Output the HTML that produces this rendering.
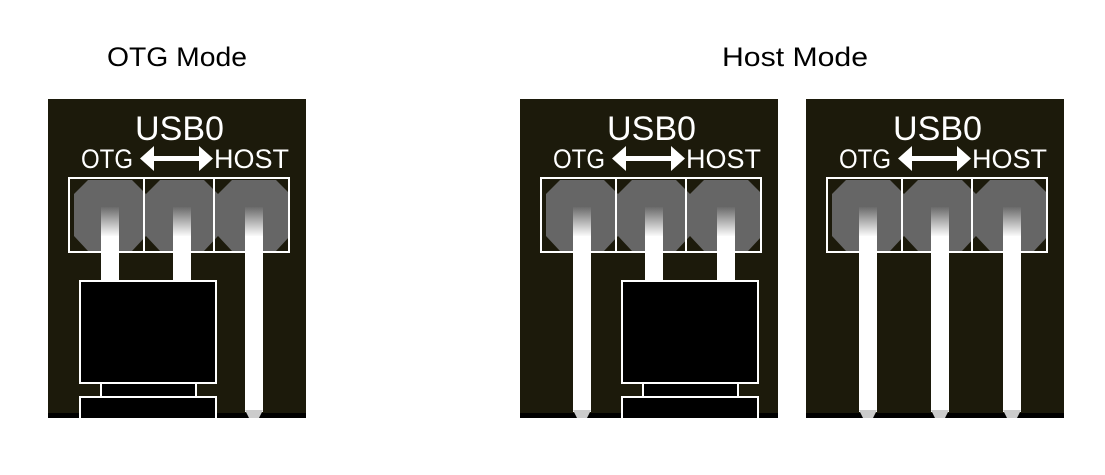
<!DOCTYPE html>
<html><head><meta charset="utf-8"><style>
html,body{margin:0;padding:0;background:#fff;}
svg{display:block;}
</style></head><body>
<svg width="1105" height="475" viewBox="0 0 1105 475" xmlns="http://www.w3.org/2000/svg">
<defs>
<linearGradient id="pg" x1="0" y1="0" x2="0" y2="1">
<stop offset="0" stop-color="#6a6a6a"/><stop offset="1" stop-color="#ffffff"/>
</linearGradient>
<g id="hdr">
<rect x="48" y="99" width="258" height="319" fill="#1c1a0b"/>
<rect x="48" y="413" width="258" height="5" fill="#000"/>
<text x="135" y="140" font-family="Liberation Sans, sans-serif" font-size="34" fill="#fff" textLength="89" lengthAdjust="spacingAndGlyphs">USB0</text>
<text x="81" y="168" font-family="Liberation Sans, sans-serif" font-size="27" fill="#fff" textLength="52" lengthAdjust="spacingAndGlyphs">OTG</text>
<text x="214" y="168" font-family="Liberation Sans, sans-serif" font-size="27" fill="#fff" textLength="75" lengthAdjust="spacingAndGlyphs">HOST</text>
<polygon points="140,158.5 154,146 154,156 199,156 199,146 213,158.5 199,171 199,161 154,161 154,171" fill="#fff"/>
<polygon points="88,180 132,180 146,194 146,236 132,251 88,251 74,236 74,194" fill="#666"/>
<polygon points="160,180 204,180 218,194 218,236 204,251 160,251 146,236 146,194" fill="#666"/>
<polygon points="232,180 276,180 290,194 290,236 276,251 232,251 218,236 218,194" fill="#666"/>
<rect x="144" y="194" width="2" height="42" fill="#666"/>
<rect x="69" y="178" width="220" height="74" fill="none" stroke="#fff" stroke-width="2"/>
<line x1="144" y1="178" x2="144" y2="252" stroke="#fff" stroke-width="2"/>
<line x1="214" y1="178" x2="214" y2="252" stroke="#fff" stroke-width="2"/>
</g>
<g id="pinL"><rect x="0" y="207" width="18" height="30" fill="url(#pg)"/><rect x="0" y="236" width="18" height="176" fill="#fff"/><polygon points="0,410 18,410 14,418 4,418" fill="#ccc"/></g>
<g id="pinS"><rect x="0" y="207" width="18" height="30" fill="url(#pg)"/><rect x="0" y="236" width="18" height="46" fill="#fff"/></g>
<g id="jmp">
<rect x="0" y="281" width="136" height="102" fill="#000" stroke="#fff" stroke-width="2"/>
<rect x="21" y="383" width="95" height="14" fill="#000" stroke="#fff" stroke-width="2"/>
<rect x="0" y="397" width="136" height="25" fill="#000" stroke="#fff" stroke-width="2"/>
</g>
</defs>
<text x="107" y="66" font-family="Liberation Sans, sans-serif" font-size="27" fill="#000" textLength="140" lengthAdjust="spacingAndGlyphs">OTG Mode</text>
<text x="722" y="66" font-family="Liberation Sans, sans-serif" font-size="27" fill="#000" textLength="146" lengthAdjust="spacingAndGlyphs">Host Mode</text>

<use href="#hdr"/>
<use href="#pinS" x="101"/>
<use href="#pinS" x="173"/>
<use href="#pinL" x="245"/>
<use href="#jmp" x="80"/>

<use href="#hdr" x="472"/>
<use href="#pinL" x="573"/>
<use href="#pinS" x="645"/>
<use href="#pinS" x="717"/>
<use href="#jmp" x="622"/>

<use href="#hdr" x="758"/>
<use href="#pinL" x="859"/>
<use href="#pinL" x="931"/>
<use href="#pinL" x="1003"/>
<rect x="0" y="418" width="1105" height="57" fill="#fff"/>
</svg>
</body></html>
